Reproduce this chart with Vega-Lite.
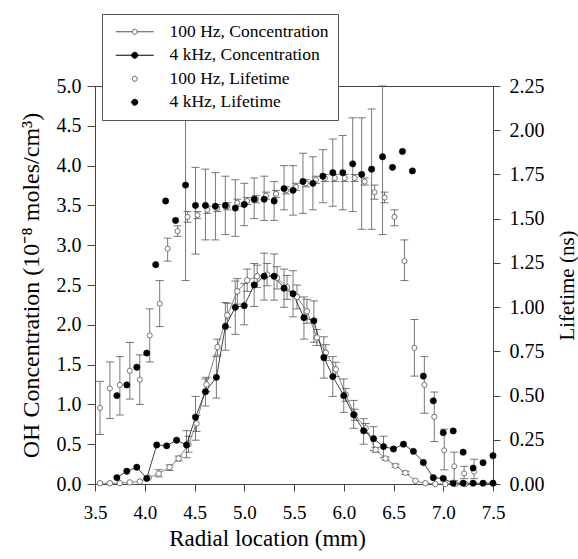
{
  "$schema": "https://vega.github.io/schema/vega-lite/v6.json",
  "width": 398,
  "height": 398,
  "autosize": {"type": "none"},
  "padding": {"left": 95, "top": 86, "right": 85, "bottom": 75},
  "background": "white",
  "config": {
    "font": "Liberation Serif",
    "view": {"stroke": "#444", "strokeWidth": 1},
    "axis": {"grid": false, "domainColor": "#444", "tickColor": "#444", "labelColor": "black", "titleColor": "black", "labelFont": "Liberation Serif", "titleFont": "Liberation Serif", "titleFontWeight": "normal", "domainWidth": 1, "tickWidth": 1}
  },
  "datasets": {
    "conc": [
      {"r": 3.55, "f": "100 Hz", "v": 0.01},
      {"r": 3.65, "f": "100 Hz", "v": 0.01},
      {"r": 3.75, "f": "100 Hz", "v": 0.01},
      {"r": 3.85, "f": "100 Hz", "v": 0.02},
      {"r": 3.95, "f": "100 Hz", "v": 0.03},
      {"r": 4.04, "f": "100 Hz", "v": 0.08},
      {"r": 4.14, "f": "100 Hz", "v": 0.13, "lo": 0.09, "hi": 0.18},
      {"r": 4.25, "f": "100 Hz", "v": 0.21, "lo": 0.17, "hi": 0.24},
      {"r": 4.34, "f": "100 Hz", "v": 0.32, "lo": 0.29, "hi": 0.35},
      {"r": 4.44, "f": "100 Hz", "v": 0.5, "lo": 0.4, "hi": 0.6},
      {"r": 4.52, "f": "100 Hz", "v": 0.76, "lo": 0.66, "hi": 0.86},
      {"r": 4.62, "f": "100 Hz", "v": 1.25, "lo": 1.16, "hi": 1.34},
      {"r": 4.73, "f": "100 Hz", "v": 1.72, "lo": 1.62, "hi": 1.82},
      {"r": 4.83, "f": "100 Hz", "v": 2.12, "lo": 1.97, "hi": 2.27},
      {"r": 4.93, "f": "100 Hz", "v": 2.42, "lo": 2.26, "hi": 2.58},
      {"r": 5.03, "f": "100 Hz", "v": 2.56, "lo": 2.42, "hi": 2.7},
      {"r": 5.13, "f": "100 Hz", "v": 2.61, "lo": 2.47, "hi": 2.75},
      {"r": 5.23, "f": "100 Hz", "v": 2.63, "lo": 2.49, "hi": 2.77},
      {"r": 5.33, "f": "100 Hz", "v": 2.59, "lo": 2.45, "hi": 2.73},
      {"r": 5.43, "f": "100 Hz", "v": 2.47, "lo": 2.32, "hi": 2.62},
      {"r": 5.53, "f": "100 Hz", "v": 2.35, "lo": 2.2, "hi": 2.5},
      {"r": 5.63, "f": "100 Hz", "v": 2.17, "lo": 2.02, "hi": 2.32},
      {"r": 5.73, "f": "100 Hz", "v": 1.84, "lo": 1.74, "hi": 1.94},
      {"r": 5.82, "f": "100 Hz", "v": 1.65, "lo": 1.55, "hi": 1.75},
      {"r": 5.92, "f": "100 Hz", "v": 1.44, "lo": 1.35, "hi": 1.53},
      {"r": 6.02, "f": "100 Hz", "v": 1.12, "lo": 1.04, "hi": 1.2},
      {"r": 6.11, "f": "100 Hz", "v": 0.87, "lo": 0.8, "hi": 0.94},
      {"r": 6.22, "f": "100 Hz", "v": 0.7, "lo": 0.64, "hi": 0.76},
      {"r": 6.32, "f": "100 Hz", "v": 0.43, "lo": 0.4, "hi": 0.46},
      {"r": 6.42, "f": "100 Hz", "v": 0.32, "lo": 0.3, "hi": 0.34},
      {"r": 6.52, "f": "100 Hz", "v": 0.23, "lo": 0.21, "hi": 0.25},
      {"r": 6.62, "f": "100 Hz", "v": 0.14, "lo": 0.12, "hi": 0.16},
      {"r": 6.72, "f": "100 Hz", "v": 0.04},
      {"r": 6.82, "f": "100 Hz", "v": 0.01},
      {"r": 6.92, "f": "100 Hz", "v": 0.0},
      {"r": 7.02, "f": "100 Hz", "v": 0.0},
      {"r": 7.12, "f": "100 Hz", "v": 0.0},
      {"r": 7.22, "f": "100 Hz", "v": 0.0},
      {"r": 3.72, "f": "4 kHz", "v": 0.08},
      {"r": 3.82, "f": "4 kHz", "v": 0.16},
      {"r": 3.92, "f": "4 kHz", "v": 0.21},
      {"r": 4.02, "f": "4 kHz", "v": 0.07},
      {"r": 4.12, "f": "4 kHz", "v": 0.49},
      {"r": 4.22, "f": "4 kHz", "v": 0.48},
      {"r": 4.32, "f": "4 kHz", "v": 0.55},
      {"r": 4.42, "f": "4 kHz", "v": 0.49, "lo": 0.33, "hi": 0.67},
      {"r": 4.51, "f": "4 kHz", "v": 0.84, "lo": 0.55, "hi": 1.1},
      {"r": 4.61, "f": "4 kHz", "v": 1.16, "lo": 0.98, "hi": 1.32},
      {"r": 4.72, "f": "4 kHz", "v": 1.34, "lo": 1.08, "hi": 1.6},
      {"r": 4.81, "f": "4 kHz", "v": 1.98, "lo": 1.68, "hi": 2.28},
      {"r": 4.91, "f": "4 kHz", "v": 2.22, "lo": 1.88, "hi": 2.55},
      {"r": 5.0, "f": "4 kHz", "v": 2.24, "lo": 2.0, "hi": 2.52},
      {"r": 5.1, "f": "4 kHz", "v": 2.5, "lo": 2.23, "hi": 2.77},
      {"r": 5.2, "f": "4 kHz", "v": 2.61, "lo": 2.31, "hi": 2.9},
      {"r": 5.3, "f": "4 kHz", "v": 2.61, "lo": 2.31, "hi": 2.89},
      {"r": 5.4, "f": "4 kHz", "v": 2.46, "lo": 2.22, "hi": 2.7},
      {"r": 5.49, "f": "4 kHz", "v": 2.39, "lo": 2.1, "hi": 2.68},
      {"r": 5.6, "f": "4 kHz", "v": 2.09, "lo": 1.82, "hi": 2.35},
      {"r": 5.7, "f": "4 kHz", "v": 2.05, "lo": 1.78, "hi": 2.3},
      {"r": 5.8, "f": "4 kHz", "v": 1.59, "lo": 1.33, "hi": 1.85},
      {"r": 5.89, "f": "4 kHz", "v": 1.35, "lo": 1.1, "hi": 1.6},
      {"r": 6.0, "f": "4 kHz", "v": 1.11, "lo": 0.9, "hi": 1.32},
      {"r": 6.1, "f": "4 kHz", "v": 0.87, "lo": 0.7, "hi": 1.05},
      {"r": 6.2, "f": "4 kHz", "v": 0.67, "lo": 0.5, "hi": 0.82},
      {"r": 6.3, "f": "4 kHz", "v": 0.57, "lo": 0.42, "hi": 0.72},
      {"r": 6.4, "f": "4 kHz", "v": 0.47, "lo": 0.33, "hi": 0.6},
      {"r": 6.5, "f": "4 kHz", "v": 0.44},
      {"r": 6.6, "f": "4 kHz", "v": 0.5},
      {"r": 6.7, "f": "4 kHz", "v": 0.41},
      {"r": 6.8, "f": "4 kHz", "v": 0.27},
      {"r": 6.9, "f": "4 kHz", "v": 0.08},
      {"r": 7.0, "f": "4 kHz", "v": 0.07},
      {"r": 7.1, "f": "4 kHz", "v": 0.01},
      {"r": 7.2, "f": "4 kHz", "v": 0.01},
      {"r": 7.3, "f": "4 kHz", "v": 0.01},
      {"r": 7.4, "f": "4 kHz", "v": 0.01},
      {"r": 7.5, "f": "4 kHz", "v": 0.01}
    ],
    "life": [
      {"r": 3.55, "f": "100 Hz", "v": 0.43, "lo": 0.28, "hi": 0.58},
      {"r": 3.65, "f": "100 Hz", "v": 0.54, "lo": 0.37, "hi": 0.69},
      {"r": 3.75, "f": "100 Hz", "v": 0.56, "lo": 0.39, "hi": 0.72},
      {"r": 3.85, "f": "100 Hz", "v": 0.64, "lo": 0.48, "hi": 0.8},
      {"r": 3.95, "f": "100 Hz", "v": 0.59, "lo": 0.45, "hi": 0.73},
      {"r": 4.05, "f": "100 Hz", "v": 0.84, "lo": 0.69, "hi": 0.99},
      {"r": 4.15, "f": "100 Hz", "v": 1.02, "lo": 0.89, "hi": 1.15},
      {"r": 4.23, "f": "100 Hz", "v": 1.33, "lo": 1.26, "hi": 1.39},
      {"r": 4.33, "f": "100 Hz", "v": 1.43, "lo": 1.4, "hi": 1.46},
      {"r": 4.43, "f": "100 Hz", "v": 1.51, "lo": 1.48, "hi": 1.54},
      {"r": 4.53, "f": "100 Hz", "v": 1.52, "lo": 1.5, "hi": 1.54},
      {"r": 4.63, "f": "100 Hz", "v": 1.55, "lo": 1.53, "hi": 1.57},
      {"r": 4.73, "f": "100 Hz", "v": 1.56, "lo": 1.54, "hi": 1.58},
      {"r": 4.83, "f": "100 Hz", "v": 1.57, "lo": 1.55, "hi": 1.59},
      {"r": 4.93, "f": "100 Hz", "v": 1.59, "lo": 1.57, "hi": 1.61},
      {"r": 5.03, "f": "100 Hz", "v": 1.6, "lo": 1.58, "hi": 1.62},
      {"r": 5.12, "f": "100 Hz", "v": 1.61, "lo": 1.59, "hi": 1.63},
      {"r": 5.22, "f": "100 Hz", "v": 1.63, "lo": 1.61, "hi": 1.65},
      {"r": 5.32, "f": "100 Hz", "v": 1.64, "lo": 1.62, "hi": 1.66},
      {"r": 5.42, "f": "100 Hz", "v": 1.66, "lo": 1.64, "hi": 1.68},
      {"r": 5.52, "f": "100 Hz", "v": 1.68, "lo": 1.66, "hi": 1.7},
      {"r": 5.62, "f": "100 Hz", "v": 1.7, "lo": 1.68, "hi": 1.72},
      {"r": 5.72, "f": "100 Hz", "v": 1.72, "lo": 1.7, "hi": 1.74},
      {"r": 5.81, "f": "100 Hz", "v": 1.73, "lo": 1.71, "hi": 1.75},
      {"r": 5.91, "f": "100 Hz", "v": 1.73, "lo": 1.71, "hi": 1.75},
      {"r": 6.01, "f": "100 Hz", "v": 1.73, "lo": 1.71, "hi": 1.75},
      {"r": 6.11, "f": "100 Hz", "v": 1.73, "lo": 1.71, "hi": 1.75},
      {"r": 6.21, "f": "100 Hz", "v": 1.71, "lo": 1.69, "hi": 1.73},
      {"r": 6.31, "f": "100 Hz", "v": 1.65, "lo": 1.61, "hi": 1.69},
      {"r": 6.41, "f": "100 Hz", "v": 1.62, "lo": 1.59, "hi": 1.65},
      {"r": 6.51, "f": "100 Hz", "v": 1.51, "lo": 1.46, "hi": 1.55},
      {"r": 6.61, "f": "100 Hz", "v": 1.26, "lo": 1.15, "hi": 1.38},
      {"r": 6.71, "f": "100 Hz", "v": 0.77, "lo": 0.61, "hi": 0.93},
      {"r": 6.81, "f": "100 Hz", "v": 0.56, "lo": 0.4, "hi": 0.72},
      {"r": 6.91, "f": "100 Hz", "v": 0.38, "lo": 0.24, "hi": 0.52},
      {"r": 7.01, "f": "100 Hz", "v": 0.19, "lo": 0.08, "hi": 0.31},
      {"r": 7.11, "f": "100 Hz", "v": 0.1, "lo": 0.02, "hi": 0.18},
      {"r": 7.21, "f": "100 Hz", "v": 0.06, "lo": 0.03, "hi": 0.1},
      {"r": 7.31, "f": "100 Hz", "v": 0.07, "lo": 0.03, "hi": 0.14},
      {"r": 3.72, "f": "4 kHz", "v": 0.5},
      {"r": 3.82, "f": "4 kHz", "v": 0.56},
      {"r": 3.92, "f": "4 kHz", "v": 0.66},
      {"r": 4.02, "f": "4 kHz", "v": 0.74},
      {"r": 4.11, "f": "4 kHz", "v": 1.24},
      {"r": 4.21, "f": "4 kHz", "v": 1.6},
      {"r": 4.31, "f": "4 kHz", "v": 1.49},
      {"r": 4.41, "f": "4 kHz", "v": 1.69, "lo": 1.15, "hi": 2.25},
      {"r": 4.51, "f": "4 kHz", "v": 1.575, "lo": 1.3, "hi": 1.79},
      {"r": 4.61, "f": "4 kHz", "v": 1.575, "lo": 1.38, "hi": 1.78},
      {"r": 4.71, "f": "4 kHz", "v": 1.57, "lo": 1.38, "hi": 1.76},
      {"r": 4.81, "f": "4 kHz", "v": 1.575, "lo": 1.41, "hi": 1.74},
      {"r": 4.91, "f": "4 kHz", "v": 1.56, "lo": 1.4, "hi": 1.72},
      {"r": 5.0, "f": "4 kHz", "v": 1.58, "lo": 1.46, "hi": 1.7},
      {"r": 5.1, "f": "4 kHz", "v": 1.61, "lo": 1.5, "hi": 1.73},
      {"r": 5.2, "f": "4 kHz", "v": 1.61, "lo": 1.49, "hi": 1.74},
      {"r": 5.3, "f": "4 kHz", "v": 1.6, "lo": 1.49, "hi": 1.71},
      {"r": 5.4, "f": "4 kHz", "v": 1.67, "lo": 1.55, "hi": 1.8},
      {"r": 5.49, "f": "4 kHz", "v": 1.66, "lo": 1.52, "hi": 1.8},
      {"r": 5.59, "f": "4 kHz", "v": 1.71, "lo": 1.53, "hi": 1.87},
      {"r": 5.69, "f": "4 kHz", "v": 1.7, "lo": 1.55, "hi": 1.85},
      {"r": 5.79, "f": "4 kHz", "v": 1.74, "lo": 1.59, "hi": 1.89},
      {"r": 5.89, "f": "4 kHz", "v": 1.76, "lo": 1.57, "hi": 1.95},
      {"r": 5.99, "f": "4 kHz", "v": 1.76, "lo": 1.55, "hi": 1.97},
      {"r": 6.09, "f": "4 kHz", "v": 1.81, "lo": 1.54, "hi": 2.07},
      {"r": 6.18, "f": "4 kHz", "v": 1.75, "lo": 1.44, "hi": 2.07},
      {"r": 6.28, "f": "4 kHz", "v": 1.78, "lo": 1.44, "hi": 2.12},
      {"r": 6.39, "f": "4 kHz", "v": 1.85, "lo": 1.41, "hi": 2.25},
      {"r": 6.49, "f": "4 kHz", "v": 1.79},
      {"r": 6.59, "f": "4 kHz", "v": 1.88},
      {"r": 6.69, "f": "4 kHz", "v": 1.77},
      {"r": 6.8, "f": "4 kHz", "v": 0.61},
      {"r": 6.9, "f": "4 kHz", "v": 0.47},
      {"r": 7.0, "f": "4 kHz", "v": 0.29},
      {"r": 7.1, "f": "4 kHz", "v": 0.3},
      {"r": 7.2, "f": "4 kHz", "v": 0.18},
      {"r": 7.3, "f": "4 kHz", "v": 0.09},
      {"r": 7.4, "f": "4 kHz", "v": 0.12},
      {"r": 7.5, "f": "4 kHz", "v": 0.16}
    ]
  },
  "encoding": {
    "x": {
      "field": "r", "type": "quantitative",
      "scale": {"domain": [3.5, 7.5], "nice": false, "zero": false},
      "axis": {"values": [3.5, 4.0, 4.5, 5.0, 5.5, 6.0, 6.5, 7.0, 7.5], "format": ".1f", "title": "Radial location (mm)", "labelFontSize": 19, "titleFontSize": 23, "tickSize": 7, "labelPadding": 12, "titleBaseline": "alphabetic", "titleY": 61, "titleX": 172, "labelFlush": false}
    }
  },
  "resolve": {"scale": {"y": "independent"}},
  "layer": [
    {
      "data": {"name": "conc"},
      "encoding": {
        "y": {
          "field": "v", "type": "quantitative",
          "scale": {"domain": [0, 5], "nice": false},
          "axis": {"orient": "left", "values": [0, 0.5, 1, 1.5, 2, 2.5, 3, 3.5, 4, 4.5, 5], "format": ".1f", "title": "OH Concentration (10⁻⁸ moles/cm³)", "labelFontSize": 20, "titleFontSize": 24, "tickSize": 8, "labelPadding": 6, "titleBaseline": "alphabetic", "titleX": -57, "titleAngle": -90, "labelFlush": false}
        }
      },
      "layer": [
        {
          "transform": [{"filter": "isValid(datum.lo)"}],
          "mark": {"type": "rule", "color": "#555", "strokeWidth": 0.8},
          "encoding": {"y": {"field": "lo", "type": "quantitative"}, "y2": {"field": "hi"}}
        },
        {
          "transform": [{"filter": "isValid(datum.lo)"}],
          "mark": {"type": "point", "shape": "stroke", "size": 64, "color": "#555", "strokeWidth": 0.8, "opacity": 1},
          "encoding": {"y": {"field": "lo", "type": "quantitative"}}
        },
        {
          "transform": [{"filter": "isValid(datum.hi)"}],
          "mark": {"type": "point", "shape": "stroke", "size": 64, "color": "#555", "strokeWidth": 0.8, "opacity": 1},
          "encoding": {"y": {"field": "hi", "type": "quantitative"}}
        },
        {
          "transform": [{"filter": "datum.f == '100 Hz'"}],
          "mark": {"type": "line", "color": "#666", "strokeWidth": 0.8},
          "encoding": {}
        },
        {
          "transform": [{"filter": "datum.f == '4 kHz'"}],
          "mark": {"type": "line", "color": "#111", "strokeWidth": 0.8},
          "encoding": {}
        },
        {
          "transform": [{"filter": "datum.f == '100 Hz'"}],
          "mark": {"type": "point", "shape": "circle", "size": 30, "filled": true, "fill": "white", "stroke": "#555", "strokeWidth": 0.8, "opacity": 1}
        },
        {
          "transform": [{"filter": "datum.f == '4 kHz'"}],
          "mark": {"type": "point", "shape": "circle", "size": 40, "filled": true, "fill": "black", "stroke": "black", "strokeWidth": 0.5, "opacity": 1}
        }
      ]
    },
    {
      "data": {"name": "life"},
      "encoding": {
        "y": {
          "field": "v", "type": "quantitative",
          "scale": {"domain": [0, 2.25], "nice": false},
          "axis": {"orient": "right", "values": [0, 0.25, 0.5, 0.75, 1, 1.25, 1.5, 1.75, 2, 2.25], "format": ".2f", "title": "Lifetime (ns)", "labelFontSize": 20, "titleFontSize": 21, "tickSize": 7, "labelPadding": 9, "titleAngle": -90, "titleBaseline": "alphabetic", "titleX": 80, "labelFlush": false}
        }
      },
      "layer": [
        {
          "transform": [{"filter": "isValid(datum.lo)"}],
          "mark": {"type": "rule", "color": "#555", "strokeWidth": 0.8},
          "encoding": {"y": {"field": "lo", "type": "quantitative"}, "y2": {"field": "hi"}}
        },
        {
          "transform": [{"filter": "isValid(datum.lo)"}],
          "mark": {"type": "point", "shape": "stroke", "size": 64, "color": "#555", "strokeWidth": 0.8, "opacity": 1},
          "encoding": {"y": {"field": "lo", "type": "quantitative"}}
        },
        {
          "transform": [{"filter": "isValid(datum.hi)"}],
          "mark": {"type": "point", "shape": "stroke", "size": 64, "color": "#555", "strokeWidth": 0.8, "opacity": 1},
          "encoding": {"y": {"field": "hi", "type": "quantitative"}}
        },
        {
          "transform": [{"filter": "datum.f == '100 Hz'"}],
          "mark": {"type": "point", "shape": "circle", "size": 26, "filled": true, "fill": "white", "stroke": "#555", "strokeWidth": 0.8, "opacity": 1}
        },
        {
          "transform": [{"filter": "datum.f == '4 kHz'"}],
          "mark": {"type": "point", "shape": "circle", "size": 40, "filled": true, "fill": "black", "stroke": "black", "strokeWidth": 0.5, "opacity": 1}
        },
        {
          "transform": [{"filter": "datum.r < 0"}],
          "mark": {"type": "point", "filled": true, "size": 100, "strokeWidth": 1, "opacity": 1},
          "encoding": {
            "shape": {
              "field": "series", "type": "nominal",
              "scale": {"domain": ["100 Hz, Concentration", "4 kHz, Concentration", "100 Hz, Lifetime", "4 kHz, Lifetime"],
                        "range": ["M-0.8,0H2.5M3.5,0H6.8M3.5,0A0.5,0.5 0 1,1 2.5,0A0.5,0.5 0 1,1 3.5,0Z", "M-0.8,0H2.5M3.5,0H6.8M3.6,0A0.6,0.6 0 1,1 2.4,0A0.6,0.6 0 1,1 3.6,0Z", "M3.5,0A0.5,0.5 0 1,1 2.5,0A0.5,0.5 0 1,1 3.5,0Z", "M3.6,0A0.6,0.6 0 1,1 2.4,0A0.6,0.6 0 1,1 3.6,0Z"]},
              "legend": {"orient": "none", "legendX": 7, "legendY": -72, "title": null, "padding": 9, "strokeColor": "#555", "fillColor": "white", "labelFont": "Liberation Serif", "labelFontSize": 17.5, "labelColor": "black", "labelOffset": 41, "rowPadding": 4.5, "symbolSize": 100, "symbolStrokeWidth": 1, "labelLimit": 300}
            },
            "fill": {
              "field": "series", "type": "nominal",
              "scale": {"domain": ["100 Hz, Concentration", "4 kHz, Concentration", "100 Hz, Lifetime", "4 kHz, Lifetime"], "range": ["white", "black", "white", "black"]},
              "legend": {"orient": "none", "legendX": 7, "legendY": -72, "title": null, "padding": 9, "strokeColor": "#555", "fillColor": "white", "labelFont": "Liberation Serif", "labelFontSize": 17.5, "labelColor": "black", "labelOffset": 41, "rowPadding": 4.5, "symbolSize": 100, "symbolStrokeWidth": 1, "labelLimit": 300}
            },
            "stroke": {
              "field": "series", "type": "nominal",
              "scale": {"domain": ["100 Hz, Concentration", "4 kHz, Concentration", "100 Hz, Lifetime", "4 kHz, Lifetime"], "range": ["#555", "black", "#555", "black"]},
              "legend": {"orient": "none", "legendX": 7, "legendY": -72, "title": null, "padding": 9, "strokeColor": "#555", "fillColor": "white", "labelFont": "Liberation Serif", "labelFontSize": 17.5, "labelColor": "black", "labelOffset": 41, "rowPadding": 4.5, "symbolSize": 100, "symbolStrokeWidth": 1, "labelLimit": 300}
            }
          }
        }
      ]
    }
  ]
}
